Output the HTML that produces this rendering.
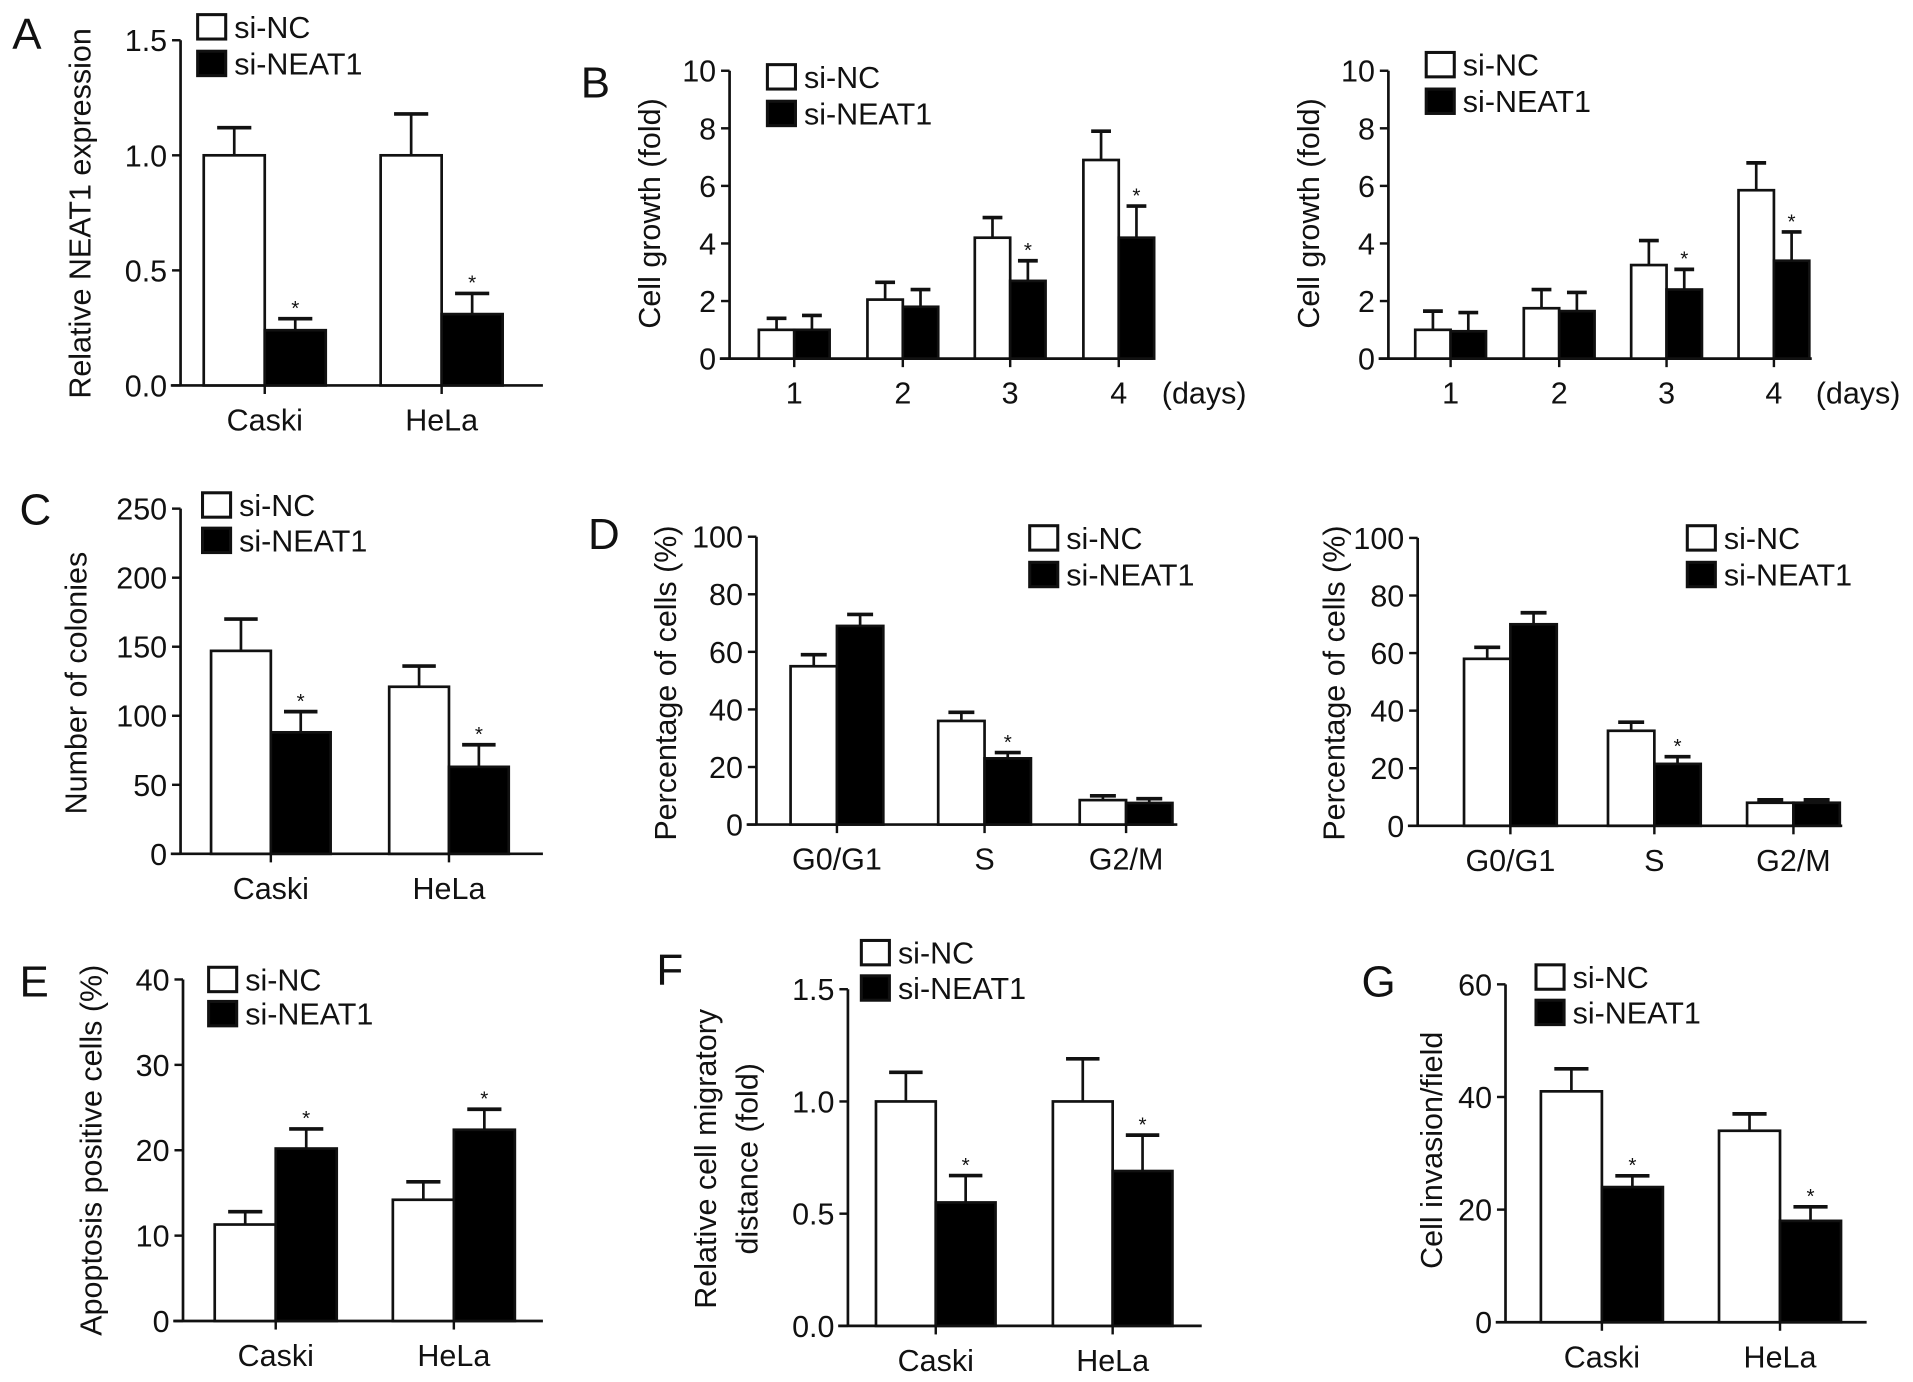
<!DOCTYPE html>
<html><head><meta charset="utf-8">
<style>
html,body{margin:0;padding:0;background:#fff;}
svg{display:block;}
text{font-family:"Liberation Sans",Arial,sans-serif;fill:#111;}
</style></head>
<body>
<svg id="fig" width="1913" height="1382" viewBox="0 0 1568 1133" preserveAspectRatio="none" xmlns="http://www.w3.org/2000/svg"></svg>
<script>
// ---- data ----
const catsCells = ["Caski","HeLa"];
const catsDays = ["1","2","3","4"];
const catsPhase = ["G0/G1","S","G2/M"];

const aNC = [1.0, 1.0];        const aNCerr = [1.12, 1.18];
const aKD = [0.24, 0.31];      const aKDerr = [0.29, 0.40];
const aTicks = ["0.0","0.5","1.0","1.5"];

const b1NC = [1.0, 2.05, 4.2, 6.9];  const b1NCerr = [1.4, 2.65, 4.9, 7.9];
const b1KD = [1.0, 1.8, 2.7, 4.2];   const b1KDerr = [1.5, 2.4, 3.4, 5.3];
const b2NC = [1.0, 1.75, 3.25, 5.85]; const b2NCerr = [1.65, 2.4, 4.1, 6.8];
const b2KD = [0.95, 1.65, 2.4, 3.4];  const b2KDerr = [1.6, 2.3, 3.1, 4.4];
const bTicks = ["0","2","4","6","8","10"];

const cNC = [147, 121];  const cNCerr = [170, 136];
const cKD = [88, 63];    const cKDerr = [103, 79];
const cTicks = ["0","50","100","150","200","250"];

const d1NC = [55, 36, 8.5];  const d1NCerr = [59, 39, 10];
const d1KD = [69, 23, 7.5];  const d1KDerr = [73, 25, 9];
const d2NC = [58, 33, 8];    const d2NCerr = [62, 36, 9];
const d2KD = [70, 21.5, 8];  const d2KDerr = [74, 24, 9];
const dTicks = ["0","20","40","60","80","100"];

const eNC = [11.3, 14.2];  const eNCerr = [12.8, 16.3];
const eKD = [20.2, 22.4];  const eKDerr = [22.5, 24.8];
const eTicks = ["0","10","20","30","40"];

const fNC = [1.0, 1.0];    const fNCerr = [1.13, 1.19];
const fKD = [0.55, 0.69];  const fKDerr = [0.67, 0.85];
const fTicks = ["0.0","0.5","1.0","1.5"];

const gNC = [41, 34];  const gNCerr = [45, 37];
const gKD = [24, 18];  const gKDerr = [26, 20.5];
const gTicks = ["0","20","40","60"];

const NS = "http://www.w3.org/2000/svg";
const svg = document.getElementById('fig');
function mk(tag, attrs, parent, txt){
  const e = document.createElementNS(NS, tag);
  for (const k in attrs) e.setAttribute(k, attrs[k]);
  if (txt !== undefined) e.textContent = txt;
  (parent||svg).appendChild(e);
  return e;
}

function panel(p){
  const g = mk('g', {});
  
  
  const yMax = parseFloat(p.ticks[p.ticks.length-1]);
  const ys = v => p.y0 - (v / yMax) * (p.y0 - p.yTop);
  const ya = mk('line', {x1:p.ax, y1:p.yTop, x2:p.ax, y2:p.y0, stroke:'#111','stroke-width':2.2}, g);
  
  
  const xa = mk('line', {x1:p.ax-8, y1:p.y0, x2:p.xEnd, y2:p.y0, stroke:'#111','stroke-width':2.2}, g);
  
  
  p.ticks.forEach(t => {
    const y = ys(parseFloat(t));
    mk('line', {x1:p.ax-7, y1:y, x2:p.ax, y2:y, stroke:'#111','stroke-width':2}, g);
    const tl = mk('text', {x:p.ax-11, y:y+9, 'text-anchor':'end','font-size':p.fs}, g, t);
    
    
  });
  p.cats.forEach((c, i) => {
    const cx = p.centers[i];
    mk('line', {x1:cx, y1:p.y0, x2:cx, y2:p.y0+7, stroke:'#111','stroke-width':2}, g);
    const cl = mk('text', {x:cx, y:p.y0+37, 'text-anchor':'middle','font-size':p.fs}, g, c);
    
    
    [[p.nc, p.ncErr, -1, '#fff'], [p.kd, p.kdErr, 0, '#000']].forEach(([vals, errs, off, fill], s) => {
      const x = cx + off * p.bw;
      const top = ys(vals[i]);
      const ex = x + p.bw/2;
      const et = ys(errs[i]);
      const el = mk('line', {x1:ex, y1:top, x2:ex, y2:et, stroke:'#111','stroke-width':2.2}, g);
      
      
      mk('line', {x1:ex-p.bw*0.28, y1:et, x2:ex+p.bw*0.28, y2:et, stroke:'#111','stroke-width':3}, g);
      const r = mk('rect', {x:x, y:top, width:p.bw, height:p.y0-top, fill:fill, stroke:'#111','stroke-width':2.2}, g);
      
      
      if (s === 1 && p.star[i]) {
        const st = mk('text', {x:ex, y:et-3, 'text-anchor':'middle','font-size':17}, g, '*');
        
        
      }
    });
  });
  if (p.days) {
    const dl = mk('text', {x:p.days, y:p.y0+37, 'text-anchor':'middle','font-size':p.fs}, g, '(days)');
    
    
  }
  p.ylab.forEach((line, k) => {
    const lx = p.ylx + k*34;
    const yl = mk('text', {x:lx, y:p.yly, 'text-anchor':'middle','font-size':p.fs,
      transform:`rotate(-90 ${lx} ${p.yly})`}, g, line);
    
    
  });
  [['si-NC','#fff'],['si-NEAT1','#000']].forEach(([lab, fill], k) => {
    const ly = p.leg[1] + k*p.legGap;
    const lr = mk('rect', {x:p.leg[0], y:ly, width:23, height:20, fill:fill, stroke:'#111','stroke-width':2.5}, g);
    
    
    const lt = mk('text', {x:p.leg[0]+30, y:ly+19, 'font-size':p.fs}, g, lab);
    
    
  });
  const pl = mk('text', {x:p.letter[0], y:p.letter[1], 'font-size':36}, g, p.L);
  
  
}

const FS = 25;
panel({name:'panel-a', L:'A', letter:[10,40], ax:148, y0:316, yTop:33, xEnd:445, ticks:aTicks, cats:catsCells,
  centers:[217,362], bw:50, nc:aNC, ncErr:aNCerr, kd:aKD, kdErr:aKDerr, star:[1,1],
  ylab:['Relative NEAT1 expression'], ylx:74, yly:175, leg:[162,12], legGap:30, fs:FS});
panel({name:'panel-b-left', L:'B', letter:[476,80], ax:598, y0:294, yTop:58, xEnd:945, ticks:bTicks, cats:catsDays,
  centers:[651,740,828,917], bw:29, nc:b1NC, ncErr:b1NCerr, kd:b1KD, kdErr:b1KDerr, star:[0,0,1,1], days:987,
  ylab:['Cell growth (fold)'], ylx:541, yly:175, leg:[629,53], legGap:30, fs:FS});
panel({name:'panel-b-right', L:'', letter:[0,0], ax:1138, y0:294, yTop:58, xEnd:1485, ticks:bTicks, cats:catsDays,
  centers:[1189,1278,1366,1454], bw:29, nc:b2NC, ncErr:b2NCerr, kd:b2KD, kdErr:b2KDerr, star:[0,0,1,1], days:1523,
  ylab:['Cell growth (fold)'], ylx:1081, yly:175, leg:[1169,43], legGap:30, fs:FS});
panel({name:'panel-c', L:'C', letter:[16,430], ax:148, y0:700, yTop:417, xEnd:445, ticks:cTicks, cats:catsCells,
  centers:[222,368], bw:49, nc:cNC, ncErr:cNCerr, kd:cKD, kdErr:cKDerr, star:[1,1],
  ylab:['Number of colonies'], ylx:71, yly:560, leg:[166,404], legGap:29, fs:FS});
panel({name:'panel-d-left', L:'D', letter:[482,450], ax:620, y0:676, yTop:440, xEnd:965, ticks:dTicks, cats:catsPhase,
  centers:[686,807,923], bw:38, nc:d1NC, ncErr:d1NCerr, kd:d1KD, kdErr:d1KDerr, star:[0,1,0],
  ylab:['Percentage of cells (%)'], ylx:554, yly:560, leg:[844,431], legGap:30, fs:FS});
panel({name:'panel-d-right', L:'', letter:[0,0], ax:1162, y0:677, yTop:441, xEnd:1510, ticks:dTicks, cats:catsPhase,
  centers:[1238,1356,1470], bw:38, nc:d2NC, ncErr:d2NCerr, kd:d2KD, kdErr:d2KDerr, star:[0,1,0],
  ylab:['Percentage of cells (%)'], ylx:1102, yly:560, leg:[1383,431], legGap:30, fs:FS});
panel({name:'panel-e', L:'E', letter:[16,817], ax:150, y0:1083, yTop:803, xEnd:445, ticks:eTicks, cats:catsCells,
  centers:[226,372], bw:50, nc:eNC, ncErr:eNCerr, kd:eKD, kdErr:eKDerr, star:[1,1],
  ylab:['Apoptosis positive cells (%)'], ylx:83, yly:943, leg:[171,793], legGap:28, fs:FS});
panel({name:'panel-f', L:'F', letter:[538,807], ax:695, y0:1087, yTop:811, xEnd:985, ticks:fTicks, cats:catsCells,
  centers:[767,912], bw:49, nc:fNC, ncErr:fNCerr, kd:fKD, kdErr:fKDerr, star:[1,1],
  ylab:['Relative cell migratory','distance (fold)'], ylx:587, yly:950, leg:[706,771], legGap:29, fs:FS});
panel({name:'panel-g', L:'G', letter:[1116,817], ax:1234, y0:1084, yTop:807, xEnd:1530, ticks:gTicks, cats:catsCells,
  centers:[1313,1459], bw:50, nc:gNC, ncErr:gNCerr, kd:gKD, kdErr:gKDerr, star:[1,1],
  ylab:['Cell invasion/field'], ylx:1182, yly:943, leg:[1259,791], legGap:29, fs:FS});
</script>
</body></html>
